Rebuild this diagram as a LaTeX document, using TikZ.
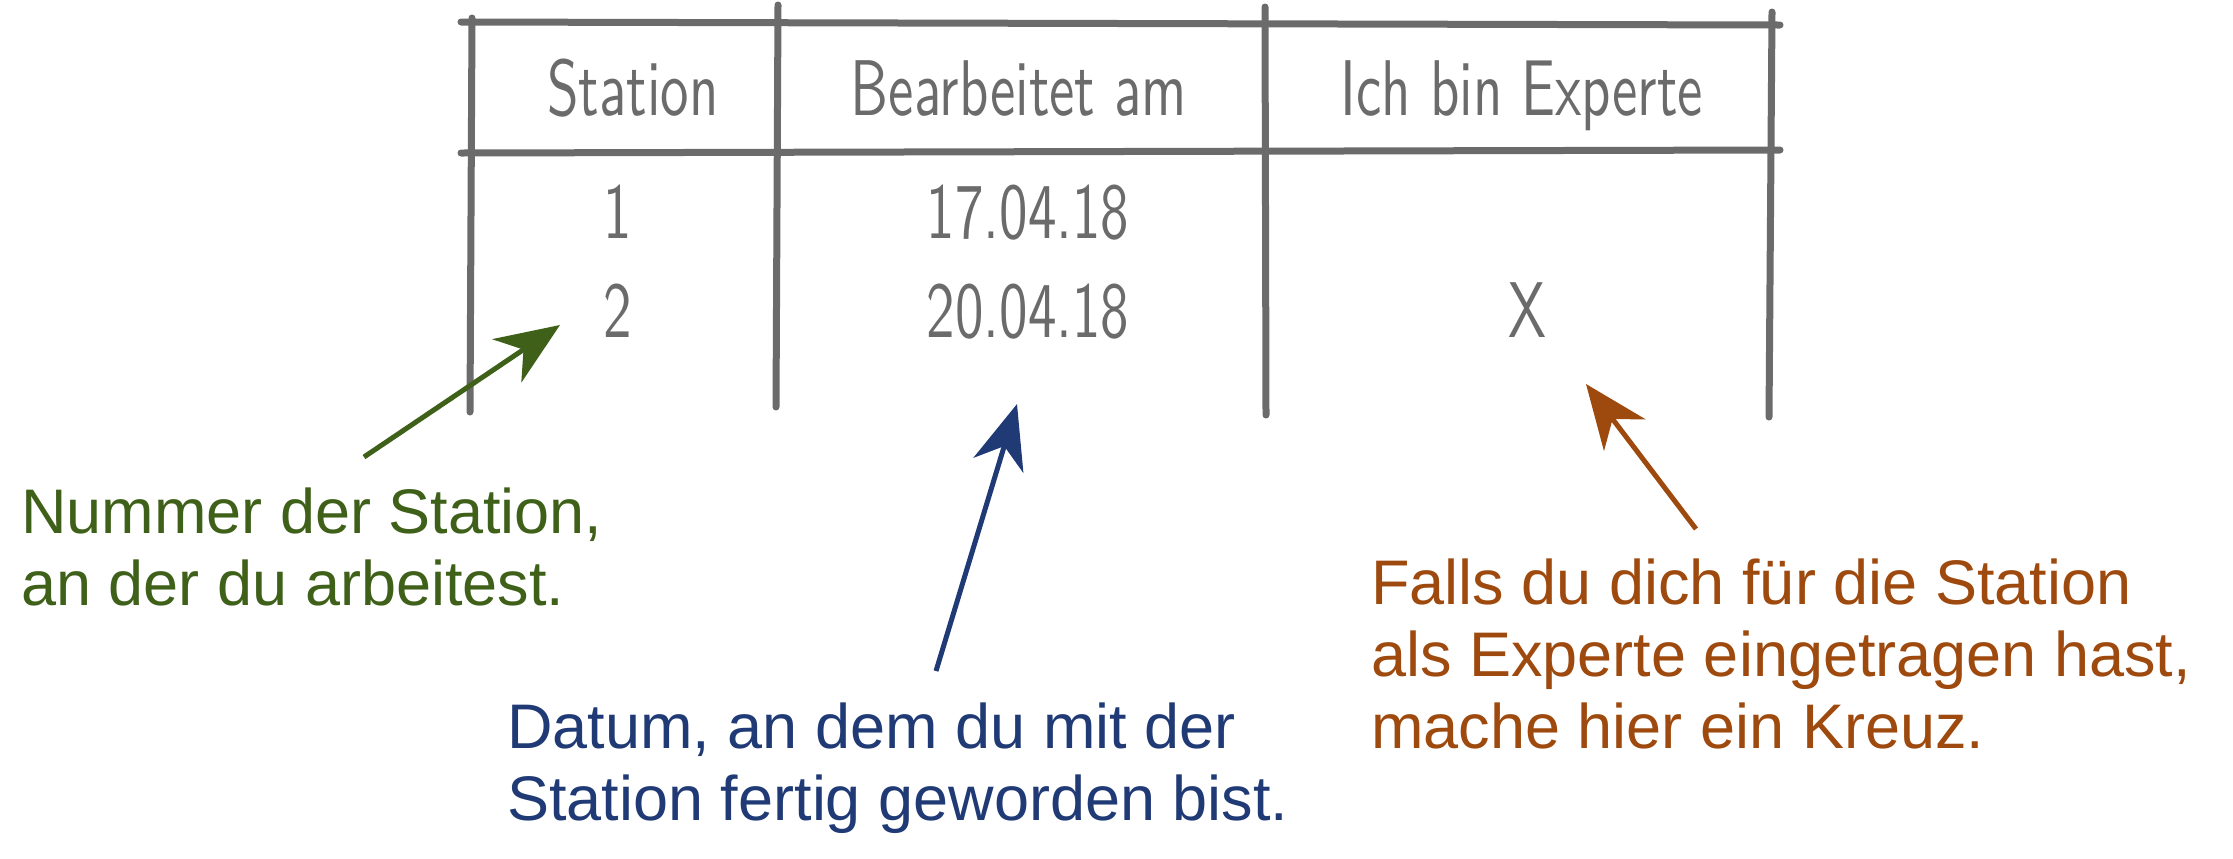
\documentclass[tikz,border=0pt]{standalone}
\usepackage{fontspec}
\setmainfont{Liberation Sans}
\newfontfamily\handfont[FakeStretch=0.72]{lmsans10-regular.otf}
\usetikzlibrary{arrows.meta}
\definecolor{tabgray}{HTML}{6B6B6B}
\definecolor{nrgreen}{HTML}{3F6019}
\definecolor{datblue}{HTML}{203A75}
\definecolor{expbrown}{HTML}{9E4A0E}
\begin{document}
\begin{tikzpicture}[x=0.5pt,y=-0.5pt,
    rule/.style={line width=3.5pt,tabgray,line cap=round},
    pointer/.style={line width=2.5pt,-{Stealth[length=32pt,width=26pt,inset=10pt]}},
    note/.style={align=left,anchor=base west,inner sep=0pt,font=\fontsize{31.5}{36}\selectfont}]
            \useasboundingbox (0,0) rectangle (2233,858);
            \draw[rule] (461,22) -- (1780,25);
            \draw[rule] (461,153) -- (1780,150);
            \draw[rule] (472,18) -- (470,412);
            \draw[rule] (778,5) -- (776,407);
            \draw[rule] (1265,7) -- (1266,415);
            \draw[rule] (1772,12) -- (1769,417);
            \begin{scope}[every node/.style={tabgray,inner sep=0pt,anchor=base,font=\handfont\fontsize{39.5}{40}\selectfont}]
                \node (station) at (633,115) {Station};
                \node (bearbeitet) at (1019,115) {Bearbeitet am};
                \node (experte) at (1522,115) {Ich bin Experte};
                \node (nr1) at (618,238) {1};
                \node (dat1) at (1028,238) {17.04.18};
                \node (nr2) at (618,337) {2};
                \node (dat2) at (1028,337) {20.04.18};
                \node (kreuz) at (1527,337) {X};
            \end{scope}
            \node[note, nrgreen] (nrnote) at (21,605) {Nummer der Station,\\an der du arbeitest.};
            \node[note, datblue] (datnote) at (507,820) {Datum, an dem du mit der\\Station fertig geworden bist.};
            \node[note, expbrown] (expnote) at (1371,748) {Falls du dich für die Station\\als Experte eingetragen hast,\\mache hier ein Kreuz.};
            \coordinate (nrtail) at (364,457);
            \coordinate (nrtip) at (560,325);
            \coordinate (dattail) at (936,671);
            \coordinate (dattip) at (1017,404);
            \coordinate (exptail) at (1696,529);
            \coordinate (exptip) at (1586,384);
            \draw (nrtail) edge [pointer, nrgreen] (nrtip);
            \draw (dattail) edge [pointer, datblue] (dattip);
            \draw (exptail) edge [pointer, expbrown] (exptip);
        \end{tikzpicture}
\end{document}
